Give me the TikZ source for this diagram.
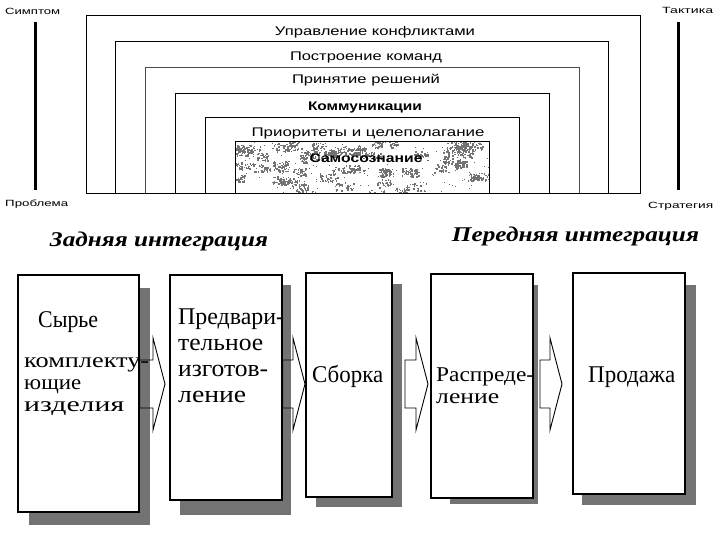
\documentclass[tikz,border=0pt]{standalone}
\usepackage{fontspec}
\setmainfont{Liberation Serif}
\newfontfamily\lsans{Liberation Sans}
\usetikzlibrary{calc}
\newcommand\fitw[2]{\resizebox{#1}{\height}{#2}}
\newcommand\blockarr[2]{%
  \draw[barrow] ($(#1)+(0,-24)$) -- ($(#2)+(-12,-24)$) -- ($(#2)+(-12,-46)$) -- (#2)
    -- ($(#2)+(-12,46)$) -- ($(#2)+(-12,24)$) -- ($(#1)+(0,24)$) -- cycle;}
\begin{document}
\begin{tikzpicture}[x=1pt,y=-1pt,
  frame/.style={line width=1pt},
  toplabel/.style={font=\lsans\fontsize{12.5}{12.5}\selectfont, anchor=base, inner sep=0pt},
  sidelabel/.style={font=\lsans\fontsize{9}{9}\selectfont, anchor=base west, inner sep=0pt},
  bar/.style={line width=3pt},
  stage/.style={draw, line width=1.2pt, fill=white, inner sep=0pt},
  shade/.style={fill=black!55},
  boxtext/.style={font=\fontsize{24}{24}\selectfont, anchor=base west, inner sep=0pt},
  tighttext/.style={boxtext, font=\fontsize{21}{21}\selectfont},
  title/.style={font=\bfseries\itshape\fontsize{21}{21}\selectfont, anchor=base, inner sep=0pt},
  barrow/.style={draw, line width=0.9pt, line join=miter}]
\useasboundingbox (0,0) rectangle (720,540);
\fill[white] (0,0) rectangle (720,540);

% ---------- upper part ----------
\draw[bar] (35,22) -- (35,190);
\draw[bar] (678,22) -- (678,190);
\node[sidelabel] (symp) at (5,15) {\fitw{55pt}{Симптом}};
\node[sidelabel] (probl) at (5,207) {\fitw{63pt}{Проблема}};
\node[sidelabel] (takt) at (662,14) {\fitw{51pt}{Тактика}};
\node[sidelabel] (strat) at (648,208) {\fitw{65pt}{Стратегия}};

% textured innermost box
\begin{scope}
  \clip (235,142) rectangle (489,194);
  \pgfmathsetseed{11}
  \foreach \k in {1,...,55}{
    \pgfmathsetmacro\cx{235+254*rnd}
    \pgfmathsetmacro\cy{142+52*rnd}
    \pgfmathsetmacro\sx{4+8*rnd}
    \foreach \j in {1,...,30}{
      \pgfmathsetmacro\dx{\cx+\sx*rand}
      \pgfmathsetmacro\dy{\cy+4*rand}
      \fill[black!55] (\dx,\dy) rectangle ++(1.5,1.5);
    }
  }
  \foreach \j in {1,...,150}{
    \pgfmathsetmacro\dx{235+254*rnd}
    \pgfmathsetmacro\dy{142+52*rnd}
    \fill[black!60] (\dx,\dy) rectangle ++(1,1);
  }
\end{scope}

\draw[frame] (86,194) -- (86,16) -- (640,16) -- (640,194);
\draw[frame] (115,194) -- (115,42) -- (608,42) -- (608,194);
\draw[frame, black!70] (145,194) -- (145,68) -- (579,68) -- (579,194);
\draw[frame] (175,194) -- (175,94) -- (549,94) -- (549,194);
\draw[frame] (205,194) -- (205,118) -- (519,118) -- (519,194);
\draw[frame] (235,194) -- (235,142) -- (489,142) -- (489,194);
\draw[frame] (86,194) -- (640,194);

\node[toplabel] (l1) at (375,36) {\fitw{200pt}{Управление конфликтами}};
\node[toplabel] (l2) at (366,61) {\fitw{152pt}{Построение команд}};
\node[toplabel] (l3) at (366,84) {\fitw{148pt}{Принятие решений}};
\node[toplabel, font=\lsans\bfseries\fontsize{12.5}{12.5}\selectfont] (l4) at (365,111) {\fitw{114pt}{Коммуникации}};
\node[toplabel] (l5) at (368,137) {\fitw{233pt}{Приоритеты и целеполагание}};
\node[toplabel, font=\lsans\bfseries\fontsize{12.5}{12.5}\selectfont] (l6) at (366,163) {\fitw{113pt}{Самосознание}};

% ---------- lower part ----------
\node[title] (back) at (159,247) {\fitw{218pt}{Задняя интеграция}};
\node[title] (front) at (575.5,242) {\fitw{247pt}{Передняя интеграция}};

% shadows
\fill[shade] (139,288) rectangle (150,525);
\fill[shade] (29,512) rectangle (150,525);
\fill[shade] (282,285) rectangle (291,515);
\fill[shade] (180,500) rectangle (291,515);
\fill[shade] (392,284) rectangle (402,507);
\fill[shade] (316,497) rectangle (402,507);
\fill[shade] (533,285) rectangle (538,504);
\fill[shade] (450,498) rectangle (538,504);
\fill[shade] (685,285) rectangle (696,505);
\fill[shade] (582,494) rectangle (696,505);

% stage boxes
\node[stage, minimum width=121pt, minimum height=237pt] (b1) at (78.5,393.5) {};
\node[stage, minimum width=112pt, minimum height=225pt] (b2) at (226,387.5) {};
\node[stage, minimum width=86pt, minimum height=224pt] (b3) at (349,385) {};
\node[stage, minimum width=102pt, minimum height=224pt] (b4) at (482,386) {};
\node[stage, minimum width=112pt, minimum height=221pt] (b5) at (629,383.5) {};

% block arrows
\coordinate (a1s) at (b1.east |- 0,384);
\coordinate (a1e) at (165,384);
\coordinate (a2s) at (b2.east |- 0,384);
\coordinate (a2e) at (305,384);
\coordinate (a3s) at (405,384);
\coordinate (a3e) at (428,384);
\coordinate (a4s) at (540,384);
\coordinate (a4e) at (562,384);
\blockarr{a1s}{a1e}
\blockarr{a2s}{a2e}
\blockarr{a3s}{a3e}
\blockarr{a4s}{a4e}

% box texts
\node[boxtext] (t1a) at (38,327) {\fitw{60pt}{Сырье}};
\node[tighttext] (t1b) at (24,367) {\fitw{125pt}{комплекту-}};
\node[tighttext] (t1c) at (24,389) {\fitw{57pt}{ющие}};
\node[tighttext] (t1d) at (24,411) {\fitw{100pt}{изделия}};
\node[boxtext] (t2a) at (178,324) {\fitw{106pt}{Предвари-}};
\node[boxtext] (t2b) at (178,350) {\fitw{85pt}{тельное}};
\node[boxtext] (t2c) at (178,376) {\fitw{90pt}{изготов-}};
\node[boxtext] (t2d) at (178,402) {\fitw{68pt}{ление}};
\node[boxtext] (t3) at (312,382) {\fitw{71pt}{Сборка}};
\node[tighttext] (t4a) at (436,381) {\fitw{98pt}{Распреде-}};
\node[tighttext] (t4b) at (436,403) {\fitw{63pt}{ление}};
\node[boxtext] (t5) at (588,382) {\fitw{87pt}{Продажа}};
\end{tikzpicture}
\end{document}
